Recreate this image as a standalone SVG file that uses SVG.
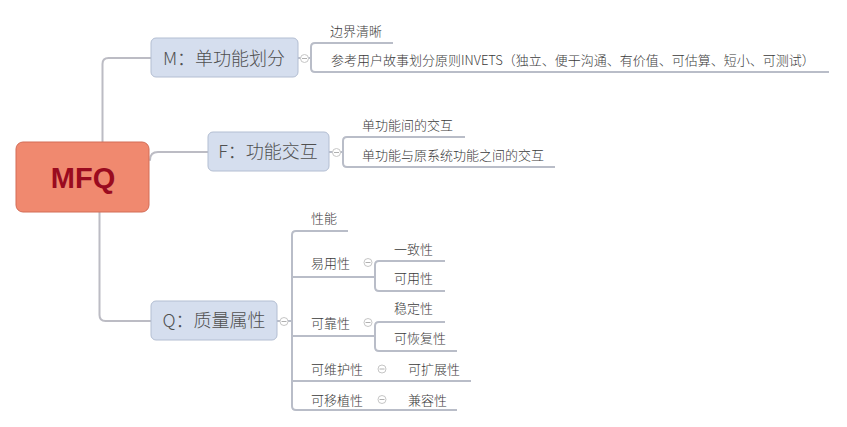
<svg xmlns="http://www.w3.org/2000/svg" width="847" height="427" viewBox="0 0 847 427">
<style>
.bg{fill:#ffffff}
.conn{fill:none;stroke:#bcbcc4;stroke-width:2;stroke-linecap:round}
.br{fill:none;stroke:#b9bdc8;stroke-width:2}
.main rect{fill:#d5deee;stroke:#b3bed2;stroke-width:1}
.main text{font-family:"Noto Sans CJK SC","Noto Sans",sans-serif;font-size:18px;font-weight:300;fill:#505050;text-anchor:middle}
.lbl{font-family:"Noto Sans CJK SC","Noto Sans",sans-serif;font-size:13px;font-weight:300;fill:#3a3a3a}
.ic circle{fill:#ffffff;stroke:#c6c6c6;stroke-width:1}
.ic line{stroke:#b0b0b0;stroke-width:1}
</style>
<rect class="bg" x="0" y="0" width="847" height="427"/>
<g id="connectors">
<path class="conn" d="M102.5,142 L102.5,64 Q102.5,58 108.5,58 L151,58"/>
<path class="conn" d="M150,160 Q150,152 158,152 L208,152"/>
<path class="conn" d="M99.5,212 L99.5,315 Q99.5,321 105.5,321 L151,321"/>
<path class="br" d="M298,58 L311,58"/>
<path class="br" d="M393,43 L315,43 Q311,43 311,47 L311,68 Q311,72 315,72 L829,72"/>
<path class="br" d="M329,152 L343,152"/>
<path class="br" d="M465,137 L347,137 Q343,137 343,141 L343,163 Q343,167 347,167 L555,167"/>
<path class="br" d="M277,321 L292,321"/>
<path class="br" d="M348,231 L296,231 Q292,231 292,235 L292,406 Q292,410 296,410 L457,410"/>
<path class="br" d="M292,277 L375,277"/>
<path class="br" d="M292,336 L375,336"/>
<path class="br" d="M292,381 L471,381"/>
<path class="br" d="M445,261 L379,261 Q375,261 375,265 L375,287 Q375,291 379,291 L445,291"/>
<path class="br" d="M445,322 L379,322 Q375,322 375,326 L375,347 Q375,351 379,351 L457,351"/>
</g>
<g id="root">
<rect x="16" y="142" width="133" height="70" rx="7" ry="7" fill="#f0896f" stroke="#d36c56" stroke-width="1"/>
<text x="83" y="188" font-family="'Liberation Sans',Arial,sans-serif" font-size="29" font-weight="bold" fill="#9a0b1f" text-anchor="middle">MFQ</text>
</g>
<g id="node-m" class="main">
<rect x="151" y="38" width="147" height="39" rx="5" ry="5"/>
<text x="224" y="65">M：单功能划分</text>
</g>
<g id="node-f" class="main">
<rect x="208" y="132" width="121" height="39" rx="5" ry="5"/>
<text x="268" y="158">F：功能交互</text>
</g>
<g id="node-q" class="main">
<rect x="151" y="301" width="126" height="39" rx="5" ry="5"/>
<text x="214" y="327">Q：质量属性</text>
</g>
<g id="icons" class="ic">
<g><circle cx="304.5" cy="58.5" r="4"/><line x1="302" y1="58.5" x2="307" y2="58.5"/></g>
<g><circle cx="336.5" cy="152.5" r="4"/><line x1="334" y1="152.5" x2="339" y2="152.5"/></g>
<g><circle cx="284" cy="321.5" r="4"/><line x1="281.5" y1="321.5" x2="286.5" y2="321.5"/></g>
<g><circle cx="368" cy="262.5" r="4"/><line x1="365.5" y1="262.5" x2="370.5" y2="262.5"/></g>
<g><circle cx="368" cy="322.5" r="4"/><line x1="365.5" y1="322.5" x2="370.5" y2="322.5"/></g>
<g><circle cx="382" cy="369" r="4"/><line x1="379.5" y1="369" x2="384.5" y2="369"/></g>
<g><circle cx="382" cy="399.5" r="4"/><line x1="379.5" y1="399.5" x2="384.5" y2="399.5"/></g>
</g>
<g id="node-m1"><text class="lbl" x="330" y="36">边界清晰</text></g>
<g id="node-m2"><text class="lbl" x="331" y="65">参考用户故事划分原则INVETS（独立、便于沟通、有价值、可估算、短小、可测试）</text></g>
<g id="node-f1"><text class="lbl" x="362" y="130">单功能间的交互</text></g>
<g id="node-f2"><text class="lbl" x="362" y="160">单功能与原系统功能之间的交互</text></g>
<g id="node-q1"><text class="lbl" x="311" y="223">性能</text></g>
<g id="node-q2"><text class="lbl" x="311" y="268">易用性</text></g>
<g id="node-q21"><text class="lbl" x="394" y="254">一致性</text></g>
<g id="node-q22"><text class="lbl" x="394" y="283">可用性</text></g>
<g id="node-q3"><text class="lbl" x="311" y="328">可靠性</text></g>
<g id="node-q31"><text class="lbl" x="394" y="313">稳定性</text></g>
<g id="node-q32"><text class="lbl" x="394" y="343">可恢复性</text></g>
<g id="node-q4"><text class="lbl" x="311" y="374">可维护性</text></g>
<g id="node-q41"><text class="lbl" x="408" y="374">可扩展性</text></g>
<g id="node-q5"><text class="lbl" x="311" y="405">可移植性</text></g>
<g id="node-q51"><text class="lbl" x="408" y="405">兼容性</text></g>
</svg>
